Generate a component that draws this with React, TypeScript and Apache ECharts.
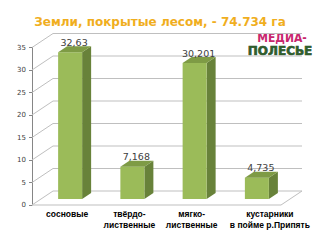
import React, { useEffect, useRef } from "react";
import * as echarts from "echarts";

const titleText = "Земли, покрытые лесом, - 74.734 га";
const categories = ["сосновые", "твёрдо-\nлиственные", "мягко-\nлиственные", "кустарники\nв пойме р.Припять"];
const values = [32.63, 7.168, 30.201, 4.735];
const yTicks = [0, 5, 10, 15, 20, 25, 30, 35];
const yMax = 35;
const yStep = 5;

const DX_FRONT = -9, DY_FRONT = 6;
const DX_BACK = 12, DY_BACK = -8;
const BAR_W = 24, BAR_DX = 9, BAR_DY = -6;
const GRID_COLOR = "#BFBFBF";

export default function App() {
  const ref = useRef<HTMLDivElement>(null);
  useEffect(() => {
    if (!ref.current) return;
    document.body.style.margin = "0";
    const chart = echarts.init(ref.current, null, { renderer: "svg" });
    chart.setOption({
      animation: false,
      backgroundColor: "#ffffff",
      title: {
        text: titleText,
        left: "center",
        top: 11,
        textStyle: { fontFamily: "DejaVu Sans", fontSize: 12, fontWeight: "bold", color: "#F0AE1E" },
      },
      grid: [
        { left: 41, right: 30, top: 41.5, bottom: 41 },
        { left: 32, right: 39, top: 47.5, bottom: 35 },
      ],
      xAxis: [
        { type: "category", data: categories, gridIndex: 0, show: false },
        {
          type: "category",
          data: categories,
          gridIndex: 1,
          axisLine: { show: false },
          axisTick: { show: false },
          axisLabel: {
            interval: 0,
            margin: 3,
            formatter: (val: string, idx: number) => {
              const key = idx === categories.length - 1 ? "b" : "a";
              return val.split("\n").map((l) => `{${key}|${l}}`).join("\n");
            },
            rich: {
              a: { fontFamily: "Liberation Sans", fontSize: 8.5, fontWeight: "bold", color: "#000", lineHeight: 11, padding: [0, 0, 0, 8] },
              b: { fontFamily: "Liberation Sans", fontSize: 8.5, fontWeight: "bold", color: "#000", lineHeight: 11, padding: [0, 0, 0, 40] },
            },
          },
        },
      ],
      yAxis: [
        { type: "value", min: 0, max: yMax, interval: yStep, gridIndex: 0, show: false },
        {
          type: "value",
          min: 0,
          max: yMax,
          interval: yStep,
          gridIndex: 1,
          axisLine: { show: true, lineStyle: { color: "#868686", width: 1 } },
          axisTick: { show: true, length: 3, lineStyle: { color: "#868686" } },
          splitLine: { show: false },
          axisLabel: { fontFamily: "DejaVu Sans", fontSize: 7, color: "#404040", margin: 6 },
        },
      ],
      series: [
        {
          type: "custom",
          xAxisIndex: 0,
          yAxisIndex: 0,
          z: 1,
          silent: true,
          data: yTicks.map((t) => [0, t]),
          renderItem: (params: any, api: any) => {
            const cs = params.coordSys;
            const x0 = cs.x;
            const xR = cs.x + cs.width;
            const t = api.value(1);
            const y = api.coord([0, t])[1];
            const children: any[] = [
              {
                type: "polyline",
                shape: { points: [[x0 + DX_FRONT, y + DY_FRONT], [x0 + DX_BACK, y + DY_BACK], [xR + DX_BACK, y + DY_BACK]] },
                style: { stroke: GRID_COLOR, lineWidth: 1, fill: null },
              },
            ];
            if (t === 0) {
              children.push({
                type: "polyline",
                shape: { points: [[x0 + DX_FRONT, y + DY_FRONT], [xR + DX_FRONT, y + DY_FRONT], [xR + DX_BACK, y + DY_BACK]] },
                style: { stroke: GRID_COLOR, lineWidth: 1, fill: null },
              });
            }
            return { type: "group", children };
          },
        },
        {
          type: "custom",
          xAxisIndex: 0,
          yAxisIndex: 0,
          z: 3,
          data: values.map((v, i) => [i, v]),
          renderItem: (params: any, api: any) => {
            const idx = api.value(0);
            const v = api.value(1);
            const base = api.coord([idx, 0]);
            const top = api.coord([idx, v]);
            const xl = base[0] - 14;
            const xr = xl + BAR_W;
            const yb = base[1];
            const yt = top[1];
            return {
              type: "group",
              children: [
                {
                  type: "polygon",
                  shape: { points: [[xr, yb], [xr + BAR_DX, yb + BAR_DY], [xr + BAR_DX, yt + BAR_DY], [xr, yt]] },
                  style: { fill: "#68823A" },
                },
                { type: "rect", shape: { x: xl, y: yt, width: BAR_W, height: yb - yt }, style: { fill: "#9BBB59" } },
                {
                  type: "polygon",
                  shape: { points: [[xl, yt], [xl + BAR_DX, yt + BAR_DY], [xr + BAR_DX, yt + BAR_DY], [xr, yt]] },
                  style: { fill: "#7E9B45" },
                },
                {
                  type: "text",
                  style: {
                    text: String(values[idx]).replace(".", ","),
                    x: xl + 16,
                    y: yt - 10,
                    align: "center",
                    verticalAlign: "middle",
                    fontFamily: "DejaVu Sans",
                    fontSize: 9.5,
                    fill: "#404040",
                  },
                },
              ],
            };
          },
        },
      ],
      graphic: [
        {
          type: "group",
          z: 100,
          children: [
            { type: "rect", shape: { x: 240, y: 29, width: 80, height: 30 }, style: { fill: "#ffffff" } },
            {
              type: "text",
              style: {
                text: "МЕДИА-",
                x: 282,
                y: 38,
                align: "center",
                verticalAlign: "middle",
                fontFamily: "DejaVu Sans Condensed",
                fontWeight: 900,
                fontSize: 12,
                fill: "#C8276E",
              },
            },
            {
              type: "text",
              style: {
                text: "ПОЛЕСЬЕ",
                x: 280,
                y: 51,
                align: "center",
                verticalAlign: "middle",
                fontFamily: "DejaVu Sans",
                fontWeight: 900,
                fontSize: 12,
                fill: "#2F5E2C",
                stroke: "#1E3D1B",
                lineWidth: 0.6,
              },
            },
          ],
        },
      ],
    });
    return () => chart.dispose();
  }, []);
  return <div ref={ref} style={{ width: 320, height: 240 }} />;
}
